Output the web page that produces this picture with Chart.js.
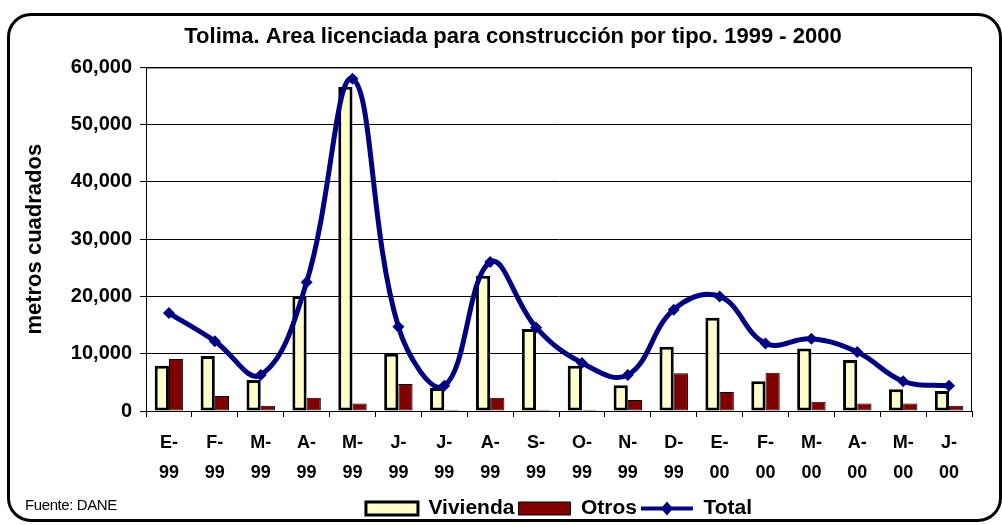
<!DOCTYPE html>
<html lang="es">
<head>
    <meta charset="UTF-8">
    <title>Tolima - Area licenciada para construcción</title>
    <script src="https://cdn.jsdelivr.net/npm/chart.js@4.4.1/dist/chart.umd.min.js"></script>
    <style>
        html, body { margin: 0; padding: 0; background: #fff; }
        .wrap { position: relative; width: 1002px; height: 525px; overflow: hidden; }
        .wrap canvas { position: absolute; left: 0; top: 0; }
        .frame {
            position: absolute; left: 7px; top: 13px; width: 989px; height: 503px;
            border: 3px solid #000; border-radius: 24px; pointer-events: none;
        }
        .fuente {
            position: absolute; left: 25px; top: 496px;
            font: 15px "Liberation Sans", Arial, sans-serif; letter-spacing: -0.4px; color: #000;
        }
    </style>
</head>
<body>
    <div class="wrap">
        <canvas id="chart" width="1002" height="525"></canvas>
        <div class="frame"></div>
        <div class="fuente">Fuente: DANE</div>
    </div>

    <script>
        // datos (metros cuadrados)
        const categories = [
            ['E-', '99'], ['F-', '99'], ['M-', '99'], ['A-', '99'], ['M-', '99'], ['J-', '99'],
            ['J-', '99'], ['A-', '99'], ['S-', '99'], ['O-', '99'], ['N-', '99'], ['D-', '99'],
            ['E-', '00'], ['F-', '00'], ['M-', '00'], ['A-', '00'], ['M-', '00'], ['J-', '00']
        ];
        const vivienda = [7900, 9600, 5400, 20100, 56600, 10000, 4000, 23600, 14300, 7900, 4500, 11200, 16300, 5200, 10900, 8900, 3800, 3500];
        const otros = [9100, 2600, 900, 2300, 1300, 4700, 200, 2300, 200, 200, 1900, 6600, 3300, 6700, 1600, 1300, 1300, 900];
        const total = [17100, 12200, 6300, 22500, 58000, 14700, 4400, 26000, 14600, 8400, 6300, 17700, 20000, 11800, 12600, 10300, 5200, 4400];
        const yTicks = [0, 10000, 20000, 30000, 40000, 50000, 60000];

        const FONT = '"Liberation Sans", Arial, sans-serif';
        const NAVY = '#000080';

        // borde del area de trazado
        const plotFrame = {
            id: 'plotFrame',
            beforeDatasetsDraw(chart) {
                const a = chart.chartArea, ctx = chart.ctx;
                ctx.save();
                ctx.strokeStyle = '#000';
                ctx.lineWidth = 1;
                ctx.strokeRect(a.left + 0.5, a.top + 0.5, a.right - a.left - 1, a.bottom - a.top);
                ctx.restore();
            }
        };

        // simbolo de linea con marcador para "Total" en la leyenda
        const totalLegend = {
            id: 'totalLegend',
            afterDraw(chart) {
                const lg = chart.legend;
                const i = lg.legendItems.findIndex(it => it.text === 'Total');
                if (i < 0) return;
                const hb = lg.legendHitBoxes[i];
                const bw = lg.options.labels.boxWidth;
                const y = hb.top + hb.height / 2;
                const cx = hb.left + bw / 2;
                const ctx = chart.ctx;
                ctx.save();
                ctx.strokeStyle = NAVY;
                ctx.fillStyle = NAVY;
                ctx.lineWidth = 4;
                ctx.beginPath();
                ctx.moveTo(hb.left, y);
                ctx.lineTo(hb.left + bw, y);
                ctx.stroke();
                ctx.beginPath();
                ctx.moveTo(cx, y - 7);
                ctx.lineTo(cx + 6, y);
                ctx.lineTo(cx, y + 7);
                ctx.lineTo(cx - 6, y);
                ctx.closePath();
                ctx.fill();
                ctx.restore();
            }
        };

        Chart.defaults.color = '#000';
        Chart.defaults.font.family = FONT;

        new Chart(document.getElementById('chart'), {
            type: 'bar',
            data: {
                labels: categories,
                datasets: [
                    {
                        label: 'Vivienda',
                        data: vivienda,
                        backgroundColor: '#FFFFCC',
                        borderColor: '#000',
                        borderWidth: 3,
                        borderSkipped: false,
                        categoryPercentage: 0.62,
                        barPercentage: 1,
                        order: 2
                    },
                    {
                        label: 'Otros',
                        data: otros,
                        backgroundColor: '#800000',
                        borderColor: '#000',
                        borderWidth: 1,
                        borderSkipped: false,
                        categoryPercentage: 0.62,
                        barPercentage: 1,
                        order: 2
                    },
                    {
                        type: 'line',
                        label: 'Total',
                        data: total,
                        borderColor: NAVY,
                        backgroundColor: NAVY,
                        borderWidth: 5,
                        tension: 0.4,
                        pointStyle: 'rectRot',
                        pointRadius: 6,
                        pointBorderWidth: 0,
                        pointBackgroundColor: NAVY,
                        order: 1
                    }
                ]
            },
            options: {
                responsive: false,
                animation: false,
                layout: { padding: { left: 24, right: 0, top: 0, bottom: -4 } },
                plugins: {
                    title: {
                        display: true,
                        text: 'Tolima. Area licenciada para construcción por tipo. 1999 - 2000',
                        font: { size: 22, weight: 'bold' },
                        padding: { top: 24, bottom: 17 }
                    },
                    legend: {
                        position: 'bottom',
                        fullSize: false,
                        labels: {
                            boxWidth: 52,
                            boxHeight: 13,
                            padding: 4,
                            font: { size: 21, weight: 'bold' },
                            sort: (a, b) => a.datasetIndex - b.datasetIndex,
                            generateLabels(chart) {
                                const items = Chart.defaults.plugins.legend.labels.generateLabels(chart);
                                items.forEach(it => {
                                    if (it.text === 'Total') {
                                        it.fillStyle = 'rgba(0,0,0,0)';
                                        it.strokeStyle = 'rgba(0,0,0,0)';
                                        it.lineWidth = 0;
                                    }
                                });
                                return items;
                            }
                        }
                    },
                    tooltip: { enabled: false }
                },
                scales: {
                    x: {
                        afterFit(scale) { scale.height = 83; },
                        grid: { display: true, drawOnChartArea: false, color: '#000', tickColor: '#000', tickLength: 6 },
                        border: { color: '#000', width: 1 },
                        ticks: {
                            autoSkip: false,
                            maxRotation: 0,
                            padding: 11,
                            font: { size: 18, weight: 'bold', lineHeight: 1.65 }
                        }
                    },
                    y: {
                        min: 0,
                        max: 60000,
                        afterFit(scale) { scale.width = 122; },
                        afterBuildTicks(scale) { scale.ticks = yTicks.map(v => ({ value: v })); },
                        grid: { color: '#000', tickColor: '#000', tickLength: 6 },
                        border: { color: '#000', width: 1 },
                        ticks: {
                            padding: 8,
                            font: { size: 20, weight: 'bold' },
                            callback: v => v.toLocaleString('en-US')
                        },
                        title: {
                            display: true,
                            text: 'metros cuadrados',
                            font: { size: 22, weight: 'bold' },
                            padding: { top: -2, bottom: 0 }
                        }
                    },
                    // eje vacio a la derecha para dejar el margen
                    y2: {
                        position: 'right',
                        afterFit(scale) { scale.width = 30; },
                        grid: { display: false },
                        border: { display: false },
                        ticks: { display: false }
                    }
                }
            },
            plugins: [plotFrame, totalLegend]
        });
    </script>
</body>
</html>
